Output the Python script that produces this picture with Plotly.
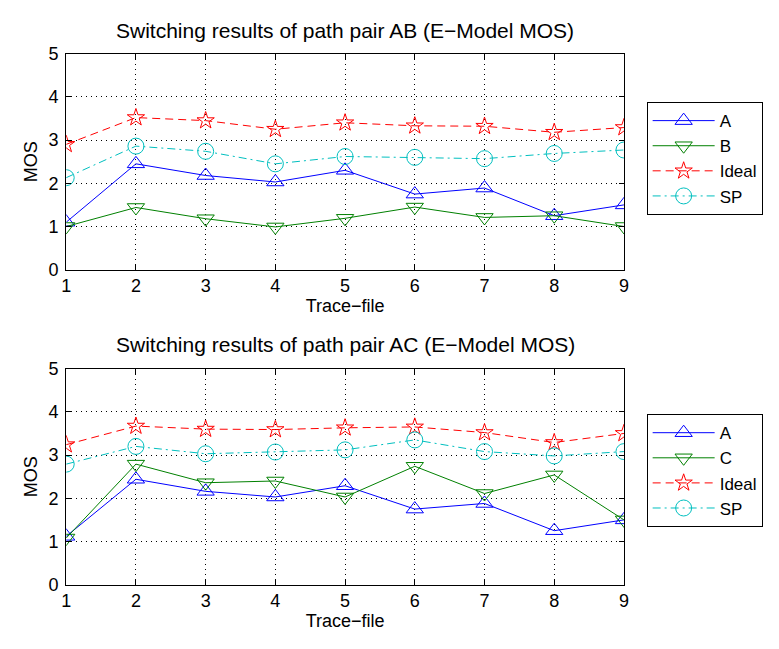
import plotly.graph_objects as go

trace_files = [1, 2, 3, 4, 5, 6, 7, 8, 9]

ab_A = [1.1, 2.45, 2.18, 2.03, 2.3, 1.75, 1.89, 1.25, 1.5]
ab_B = [1.0, 1.44, 1.18, 0.99, 1.19, 1.45, 1.21, 1.25, 1.0]
ab_Ideal = [2.9, 3.52, 3.45, 3.25, 3.4, 3.33, 3.32, 3.18, 3.29]
ab_SP = [2.13, 2.86, 2.74, 2.45, 2.62, 2.6, 2.57, 2.69, 2.77]

ac_A = [1.12, 2.44, 2.16, 2.03, 2.29, 1.75, 1.88, 1.25, 1.5]
ac_C = [1.08, 2.79, 2.36, 2.4, 2.03, 2.74, 2.11, 2.54, 1.5]
ac_Ideal = [3.24, 3.67, 3.6, 3.59, 3.63, 3.65, 3.52, 3.29, 3.5]
ac_SP = [2.79, 3.2, 3.03, 3.07, 3.12, 3.35, 3.08, 2.98, 3.08]

BLUE = "#0000FF"
GREEN = "#008000"
RED = "#FF0000"
CYAN = "#00BFBF"
FONT = "Liberation Sans, Arial, sans-serif"

fig = go.Figure()

MSIZE = {"triangle-up-open": 15, "triangle-down-open": 15, "star-open": 13, "circle-open": 16}

def add(x, y, name, color, symbol, dash, xa, ya, legend):
    fig.add_trace(go.Scatter(
        x=x, y=y, name=name, mode="lines+markers",
        line=dict(color=color, width=1, dash=dash),
        marker=dict(symbol=symbol, size=MSIZE[symbol], color=color, line=dict(color=color, width=1)),
        xaxis=xa, yaxis=ya, legend=legend))

add(trace_files, ab_A, "A", BLUE, "triangle-up-open", "solid", "x", "y", "legend")
add(trace_files, ab_B, "B", GREEN, "triangle-down-open", "solid", "x", "y", "legend")
add(trace_files, ab_Ideal, "Ideal", RED, "star-open", "8px,5px", "x", "y", "legend")
add(trace_files, ab_SP, "SP", CYAN, "circle-open", "8px,4px,2px,4px", "x", "y", "legend")

add(trace_files, ac_A, "A", BLUE, "triangle-up-open", "solid", "x2", "y2", "legend2")
add(trace_files, ac_C, "C", GREEN, "triangle-down-open", "solid", "x2", "y2", "legend2")
add(trace_files, ac_Ideal, "Ideal", RED, "star-open", "8px,5px", "x2", "y2", "legend2")
add(trace_files, ac_SP, "SP", CYAN, "circle-open", "8px,4px,2px,4px", "x2", "y2", "legend2")

W, H = 779, 649
xd = [62 / W, 627 / W]
top_y = [(H - 268) / H, (H - 45) / H]
bot_y = [(H - 593) / H, (H - 370) / H]

axis_common = dict(
    showline=True, linecolor="black", linewidth=1, mirror="allticks",
    ticks="inside", ticklen=5, tickcolor="black",
    showgrid=True, gridcolor="black", griddash="1px,4px", gridwidth=1,
    zeroline=False, tickfont=dict(size=18, color="black", family=FONT),
)

legend_common = dict(xanchor="left", yanchor="top",
                     bordercolor="black", borderwidth=1, bgcolor="white",
                     font=dict(size=17), tracegroupgap=0, itemwidth=62)

fig.update_layout(
    width=W, height=H,
    margin=dict(l=0, r=0, t=0, b=0),
    paper_bgcolor="white", plot_bgcolor="white",
    font=dict(family=FONT, color="black", size=18),
    xaxis=dict(domain=xd, anchor="y", range=[1, 9], dtick=1, **axis_common,
               title=dict(text="Trace−file", standoff=0, font=dict(size=18))),
    yaxis=dict(domain=top_y, anchor="x", range=[0, 5], dtick=1, ticklabelstandoff=3, **axis_common,
               title=dict(text="MOS", standoff=6, font=dict(size=18))),
    xaxis2=dict(domain=xd, anchor="y2", range=[1, 9], dtick=1, **axis_common,
                title=dict(text="Trace−file", standoff=0, font=dict(size=18))),
    yaxis2=dict(domain=bot_y, anchor="x2", range=[0, 5], dtick=1, ticklabelstandoff=3, **axis_common,
                title=dict(text="MOS", standoff=6, font=dict(size=18))),
    legend=dict(x=650 / W, y=(H - 95) / H, **legend_common),
    legend2=dict(x=650 / W, y=(H - 417) / H, **legend_common),
    annotations=[
        dict(text="Switching results of path pair AB (E−Model MOS)", x=(62 + 627) / 2 / W,
             y=(H - 21) / H, xref="paper", yref="paper", showarrow=False,
             xanchor="center", yanchor="middle", font=dict(size=21)),
        dict(text="Switching results of path pair AC (E−Model MOS)", x=(62 + 627) / 2 / W,
             y=(H - 345) / H, xref="paper", yref="paper", showarrow=False,
             xanchor="center", yanchor="middle", font=dict(size=21)),
    ],
)

fig.write_html("out.html")
